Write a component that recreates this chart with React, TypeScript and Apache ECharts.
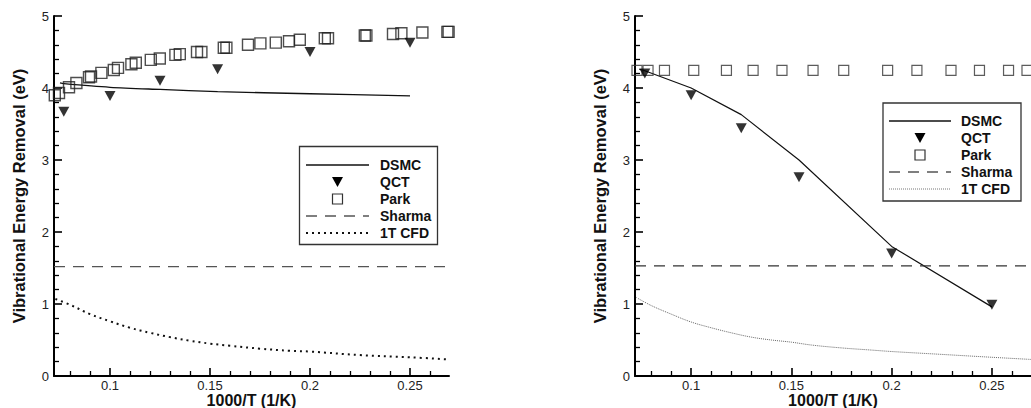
import React, { useEffect, useRef } from "react";
import * as echarts from "echarts";

// Axis ticks
const xMajorTicks = [0.1, 0.15, 0.2, 0.25];
const xMinorTicks = [0.08, 0.09, 0.11, 0.12, 0.13, 0.14, 0.16, 0.17, 0.18, 0.19, 0.21, 0.22, 0.23, 0.24, 0.26];
const xMin = 0.072;
const xMax = 0.2695;

// Left panel
const leftDsmcX = [0.075, 0.0769, 0.1, 0.125, 0.1538, 0.2, 0.25];
const leftDsmcY = [4.07, 4.06, 4.01, 3.98, 3.95, 3.92, 3.89];
const leftQctX = [0.0769, 0.1, 0.125, 0.1538, 0.2, 0.25];
const leftQctY = [3.67, 3.89, 4.1, 4.26, 4.5, 4.63];
const leftParkX = [0.0724, 0.0745, 0.0795, 0.0832, 0.0895, 0.0905, 0.0957, 0.1019, 0.104, 0.1107, 0.1129, 0.1204, 0.1249, 0.1327, 0.1349, 0.1435, 0.1457, 0.1569, 0.1582, 0.169, 0.1752, 0.1829, 0.1895, 0.1949, 0.2074, 0.209, 0.2274, 0.2282, 0.2415, 0.2457, 0.2562, 0.2687, 0.2693];
const leftParkY = [3.9, 3.93, 4.01, 4.07, 4.15, 4.16, 4.21, 4.25, 4.28, 4.33, 4.35, 4.39, 4.41, 4.46, 4.47, 4.5, 4.5, 4.56, 4.56, 4.6, 4.62, 4.63, 4.65, 4.67, 4.69, 4.69, 4.73, 4.73, 4.75, 4.76, 4.77, 4.78, 4.78];
const leftSharmaX = [0.072, 0.2695];
const leftSharmaY = [1.52, 1.52];
const leftCfdX = [0.0727, 0.08, 0.09, 0.1, 0.11, 0.12, 0.13, 0.14, 0.15, 0.16, 0.175, 0.19, 0.2, 0.225, 0.25, 0.2695];
const leftCfdY = [1.07, 0.99, 0.86, 0.76, 0.67, 0.6, 0.54, 0.49, 0.45, 0.42, 0.38, 0.35, 0.34, 0.29, 0.26, 0.23];

// Right panel
const rightDsmcX = [0.0741, 0.0769, 0.1, 0.125, 0.1538, 0.2, 0.25];
const rightDsmcY = [4.26, 4.24, 4.0, 3.63, 3.0, 1.8, 0.96];
const rightQctX = [0.0769, 0.1, 0.125, 0.1538, 0.2, 0.25];
const rightQctY = [4.2, 3.9, 3.44, 2.76, 1.7, 0.99];
const rightParkX = [0.073, 0.0785, 0.0867, 0.1013, 0.1176, 0.1309, 0.1453, 0.1608, 0.1761, 0.198, 0.2126, 0.2296, 0.2438, 0.2583, 0.2675];
const rightParkY = [4.245, 4.245, 4.245, 4.245, 4.245, 4.245, 4.245, 4.245, 4.245, 4.245, 4.245, 4.245, 4.245, 4.245, 4.245];
const rightSharmaX = [0.072, 0.2695];
const rightSharmaY = [1.53, 1.53];
const rightCfdX = [0.0727, 0.08, 0.09, 0.1, 0.11, 0.12, 0.13, 0.14, 0.15, 0.16, 0.175, 0.19, 0.2, 0.225, 0.25, 0.2695];
const rightCfdY = [1.09, 0.98, 0.86, 0.75, 0.67, 0.6, 0.54, 0.5, 0.47, 0.43, 0.39, 0.36, 0.34, 0.3, 0.26, 0.23];

const legendNames = ["DSMC", "QCT", "Park", "Sharma", "1T CFD"];
const yAxisTitle = "Vibrational Energy Removal (eV)";
const xAxisTitle = "1000/T (1/K)";

const FONT = '"Liberation Sans", Arial, Helvetica, sans-serif';
const GRID_H = 360;
const TICK = "#000";

const zip = (xs: number[], ys: number[]) => xs.map((x, i) => [x, ys[i]]);

function makeXAxes(gridIndex: number) {
  return [
    {
      type: "value",
      gridIndex,
      min: xMin,
      max: xMax,
      position: "bottom",
      name: xAxisTitle,
      nameLocation: "middle",
      nameGap: 17,
      nameMoveOverlap: false,
      nameTextStyle: { fontFamily: FONT, fontWeight: "bold", fontSize: 16, lineHeight: 15, color: "#111" },
      axisLine: { show: true, onZero: false, lineStyle: { color: "#000", width: 2 } },
      axisTick: { show: true, inside: true, length: 8, customValues: xMajorTicks, lineStyle: { color: TICK, width: 1.6 } },
      axisLabel: {
        show: true,
        customValues: xMajorTicks,
        margin: 3,
        fontFamily: FONT,
        fontSize: 13,
        color: "#222",
        formatter: (v: number) => String(v),
      },
      splitLine: { show: false },
    },
    {
      type: "value",
      gridIndex,
      min: xMin,
      max: xMax,
      position: "bottom",
      offset: 0,
      axisLine: { show: false, onZero: false },
      axisTick: { show: true, inside: true, length: 5, customValues: xMinorTicks, lineStyle: { color: TICK, width: 1.3 } },
      axisLabel: { show: false },
      splitLine: { show: false },
    },
  ];
}

function makeYAxis(gridIndex: number, nameGap: number) {
  return {
    type: "value",
    gridIndex,
    min: 0,
    max: 5,
    interval: 1,
    name: yAxisTitle,
    nameLocation: "middle",
    nameRotate: 90,
    nameGap,
    nameMoveOverlap: false,
    nameTextStyle: { fontFamily: FONT, fontWeight: "bold", fontSize: 16.5, color: "#111" },
    axisLine: { show: true, onZero: false, lineStyle: { color: "#000", width: 2 } },
    axisTick: { show: true, inside: true, length: 8, lineStyle: { color: TICK, width: 1.6 } },
    minorTick: { show: true, splitNumber: 5, length: 5, lineStyle: { color: TICK, width: 1.3 } },
    axisLabel: { margin: 5, fontFamily: FONT, fontSize: 13, color: "#222" },
    splitLine: { show: false },
  };
}

function legendGraphic(
  bx: number,
  by: number,
  bw: number,
  bh: number,
  rows: number[],
  lx1: number,
  lx2: number,
  tx: number,
  fine: boolean
) {
  const cx = (lx1 + lx2) / 2;
  const children: any[] = [
    {
      type: "rect",
      shape: { x: bx, y: by, width: bw, height: bh },
      style: { fill: "#fff", stroke: "#333", lineWidth: 1.3 },
    },
    {
      type: "line",
      shape: { x1: lx1, y1: rows[0], x2: lx2, y2: rows[0] },
      style: { stroke: "#111", lineWidth: 1.3 },
    },
    {
      type: "polygon",
      shape: { points: [[cx - 5.5, rows[1] - 5], [cx + 5.5, rows[1] - 5], [cx, rows[1] + 5]] },
      style: { fill: "#000" },
    },
    {
      type: "rect",
      shape: { x: cx - 5, y: rows[2] - 5, width: 10, height: 10 },
      style: { fill: "none", stroke: "#333", lineWidth: 1.2 },
    },
    {
      type: "line",
      shape: { x1: lx1, y1: rows[3], x2: lx2, y2: rows[3] },
      style: { stroke: "#555", lineWidth: 1.3, lineDash: [11, 8] },
    },
    {
      type: "line",
      shape: { x1: lx1, y1: rows[4], x2: lx2, y2: rows[4] },
      style: fine
        ? { stroke: "#777", lineWidth: 1, lineDash: [1, 1] }
        : { stroke: "#111", lineWidth: 2, lineDash: [2, 4] },
    },
  ];
  legendNames.forEach((n, i) => {
    children.push({
      type: "text",
      style: {
        text: n,
        x: tx,
        y: rows[i],
        fill: "#111",
        fontFamily: FONT,
        fontWeight: "bold",
        fontSize: 14,
        verticalAlign: "middle",
        align: "left",
      },
    });
  });
  return { type: "group", z: 100, children };
}

export default function App() {
  const ref = useRef<HTMLDivElement>(null);
  useEffect(() => {
    if (!ref.current) return;
    const chart = echarts.init(ref.current, null, { renderer: "svg" });
    const squareStyle = { color: "rgba(0,0,0,0)", borderColor: "#222", borderWidth: 1.4 };
    const option: any = {
      animation: false,
      backgroundColor: "#fff",
      grid: [
        { left: 54, top: 16, width: 395, height: GRID_H, outerBoundsMode: "none", containLabel: false },
        { left: 635, top: 16, width: 396, height: GRID_H, outerBoundsMode: "none", containLabel: false },
      ],
      xAxis: [...makeXAxes(0), ...makeXAxes(1)],
      yAxis: [makeYAxis(0, 27), makeYAxis(1, 27)],
      series: [
        // left
        {
          name: "DSMC", type: "line", xAxisIndex: 0, yAxisIndex: 0, data: zip(leftDsmcX, leftDsmcY),
          showSymbol: false, smooth: 0.3, lineStyle: { color: "#111", width: 1.3 }, z: 3,
        },
        {
          name: "Sharma", type: "line", xAxisIndex: 0, yAxisIndex: 0, data: zip(leftSharmaX, leftSharmaY),
          showSymbol: false, lineStyle: { color: "#555", width: 1.3, type: [11, 8] },
        },
        {
          name: "1T CFD", type: "line", xAxisIndex: 0, yAxisIndex: 0, data: zip(leftCfdX, leftCfdY),
          showSymbol: false, smooth: 0.4, lineStyle: { color: "#111", width: 2, type: [2, 4] },
        },
        {
          name: "Park", type: "scatter", xAxisIndex: 0, yAxisIndex: 0, data: zip(leftParkX, leftParkY),
          symbol: "rect", symbolSize: 11, itemStyle: squareStyle, clip: false, z: 4,
        },
        {
          name: "QCT", type: "scatter", xAxisIndex: 0, yAxisIndex: 0, data: zip(leftQctX, leftQctY),
          symbol: "triangle", symbolRotate: 180, symbolSize: [11, 10], itemStyle: { color: "#000" }, z: 5,
        },
        // right
        {
          name: "DSMC", type: "line", xAxisIndex: 2, yAxisIndex: 1, data: zip(rightDsmcX, rightDsmcY),
          showSymbol: false, lineStyle: { color: "#111", width: 1.2 }, z: 3,
        },
        {
          name: "Sharma", type: "line", xAxisIndex: 2, yAxisIndex: 1, data: zip(rightSharmaX, rightSharmaY),
          showSymbol: false, lineStyle: { color: "#333", width: 1.2, type: [11, 8] },
        },
        {
          name: "1T CFD", type: "line", xAxisIndex: 2, yAxisIndex: 1, data: zip(rightCfdX, rightCfdY),
          showSymbol: false, smooth: 0.4, lineStyle: { color: "#666", width: 1, type: [1, 1] },
        },
        {
          name: "Park", type: "scatter", xAxisIndex: 2, yAxisIndex: 1, data: zip(rightParkX, rightParkY),
          symbol: "rect", symbolSize: 10, itemStyle: { color: "rgba(0,0,0,0)", borderColor: "#333", borderWidth: 1.2 }, clip: false, z: 4,
        },
        {
          name: "QCT", type: "scatter", xAxisIndex: 2, yAxisIndex: 1, data: zip(rightQctX, rightQctY),
          symbol: "triangle", symbolRotate: 180, symbolSize: [11, 10], itemStyle: { color: "#000" }, z: 5,
        },
      ],
      graphic: [
        legendGraphic(299.5, 146.5, 138, 98, [165, 182, 199, 216, 233], 306, 369, 380, false),
        legendGraphic(883, 103, 138, 98, [121, 138, 155, 172, 189], 889, 951, 961, true),
      ],
    };
    chart.setOption(option);
    return () => chart.dispose();
  }, []);
  return (
    <div
      ref={ref}
      style={{ position: "absolute", left: 0, top: 0, width: 1031, height: 408, background: "#fff" }}
    />
  );
}
